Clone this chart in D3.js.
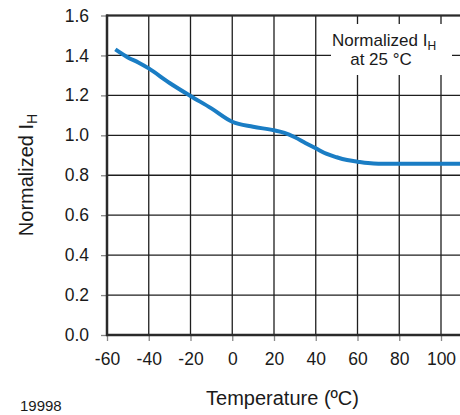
<!DOCTYPE html>
<html>
<head>
<meta charset="utf-8">
<script src="https://cdn.jsdelivr.net/npm/d3@7"></script>
<style>
  body { margin: 0; background: #fff; }
  svg { display: block; font-family: "Liberation Sans", Arial, Helvetica, sans-serif; }
</style>
</head>
<body>
<svg class="chart" width="460" height="415"></svg>
<script>
// values
const temps = [-56, -50, -45, -40, -30, -20, -10, 0, 10, 20, 25, 30, 35, 40, 45, 50, 55, 60, 65, 70, 80, 90, 100, 110];
const ihValues = [1.43, 1.39, 1.365, 1.335, 1.262, 1.197, 1.135, 1.068, 1.043, 1.025, 1.012, 0.99, 0.962, 0.935, 0.908, 0.89, 0.876, 0.868, 0.861, 0.858, 0.858, 0.858, 0.858, 0.858];
const xTicks = [-60, -40, -20, 0, 20, 40, 60, 80, 100];
const yTicks = [0, 0.2, 0.4, 0.6, 0.8, 1.0, 1.2, 1.4, 1.6];

const margin = { top: 15.5, left: 107, bottom: 80 };
const plotRight = 460;

const svg = d3.select(".chart");

const x = d3.scaleLinear().domain([-60, 110]).range([margin.left, margin.left + 170 * 2.0875]);
const y = d3.scaleLinear().domain([0, 1.6]).range([335, margin.top]);

// grid
const grid = svg.append("g").attr("class", "grid");
grid.selectAll(".vgrid")
  .data(xTicks)
  .join("line")
  .attr("x1", (d) => x(d))
  .attr("x2", (d) => x(d))
  .attr("y1", y(1.6))
  .attr("y2", y(0))
  .attr("stroke", "#1e1e1e")
  .attr("stroke-width", 1.3);
grid.selectAll(".hgrid")
  .data(yTicks)
  .join("line")
  .attr("x1", margin.left)
  .attr("x2", plotRight)
  .attr("y1", (d) => y(d))
  .attr("y2", (d) => y(d))
  .attr("stroke", "#1e1e1e")
  .attr("stroke-width", 1.3);

// annotation box covers the grid
svg.append("rect")
  .attr("x", 331)
  .attr("y", 24)
  .attr("width", 121)
  .attr("height", 51)
  .attr("fill", "#fff");

const note = svg.append("text")
  .attr("x", 384)
  .attr("y", 45.5)
  .attr("text-anchor", "middle")
  .attr("font-size", 17)
  .attr("fill", "#1a1a1a");
note.append("tspan").text("Normalized I");
note.append("tspan").attr("font-size", 12).attr("dy", 4).text("H");
svg.append("text")
  .attr("x", 381)
  .attr("y", 65)
  .attr("text-anchor", "middle")
  .attr("font-size", 17)
  .attr("fill", "#1a1a1a")
  .text("at 25 °C");

// axes (ticks + labels)
const yAxis = svg.append("g")
  .attr("transform", `translate(${margin.left},0)`)
  .call(d3.axisLeft(y).tickValues(yTicks).tickFormat(d3.format(".1f")).tickSize(6).tickPadding(12));
const xAxis = svg.append("g")
  .attr("transform", `translate(0,335)`)
  .call(d3.axisBottom(x).tickValues(xTicks).tickFormat((d) => String(d)).tickSize(6).tickPadding(12));

[xAxis, yAxis].forEach((a) => {
  a.select(".domain").remove();
  a.selectAll(".tick line").attr("stroke", "#888").attr("stroke-width", 1.3);
  a.selectAll(".tick text")
    .attr("font-size", 17.5)
    .attr("fill", "#1a1a1a")
    .attr("font-family", "Liberation Sans, Arial, sans-serif");
});

// frame lines: left, bottom, top
svg.append("line")
  .attr("x1", margin.left).attr("x2", margin.left)
  .attr("y1", y(1.6) - 1).attr("y2", y(0) + 1)
  .attr("stroke", "#2a2a2a").attr("stroke-width", 2.5);
svg.append("line")
  .attr("x1", margin.left - 1).attr("x2", plotRight)
  .attr("y1", y(0)).attr("y2", y(0))
  .attr("stroke", "#2a2a2a").attr("stroke-width", 2.5);
svg.append("line")
  .attr("x1", margin.left - 1).attr("x2", plotRight)
  .attr("y1", y(1.6)).attr("y2", y(1.6))
  .attr("stroke", "#2a2a2a").attr("stroke-width", 2.2);

// curve
const data = temps.map((t, i) => ({ t, v: ihValues[i] }));
svg.append("path")
  .datum(data)
  .attr("fill", "none")
  .attr("stroke", "#1a7dc4")
  .attr("stroke-width", 4)
  .attr("d", d3.line().x((d) => x(d.t)).y((d) => y(d.v)).curve(d3.curveMonotoneX));

// axis titles
svg.append("text")
  .attr("x", 282.5)
  .attr("y", 405)
  .attr("text-anchor", "middle")
  .attr("font-size", 20)
  .attr("fill", "#1a1a1a")
  .text("Temperature (ºC)");

const yTitle = svg.append("text")
  .attr("transform", "translate(33,175) rotate(-90)")
  .attr("text-anchor", "middle")
  .attr("font-size", 20)
  .attr("fill", "#1a1a1a");
yTitle.append("tspan").text("Normalized I");
yTitle.append("tspan").attr("font-size", 14).attr("dy", 4).text("H");

svg.append("text")
  .attr("x", 20)
  .attr("y", 411)
  .attr("font-size", 15)
  .attr("fill", "#1a1a1a")
  .text("19998");
</script>
</body>
</html>
